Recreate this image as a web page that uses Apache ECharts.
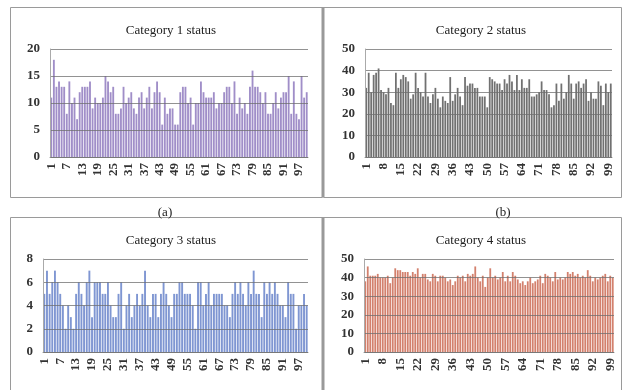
<!DOCTYPE html>
<html>
<head>
<meta charset="utf-8">
<script src="https://cdn.jsdelivr.net/npm/echarts@6/dist/echarts.min.js"></script>
<style>
  html, body { margin: 0; padding: 0; background: #fff; }
  #main { width: 625px; height: 390px; }
</style>
</head>
<body>
<div id="main"></div>
<script>
// bar index 1..100, same for all four panels
var cats = [];
for (var i = 1; i <= 100; i++) cats.push(String(i));

var cat1 = [11,18,13,14,13,13,8,14,10,11, 7,12,13,13,13,14,9,11,10,10,
            11,15,14,12,13,8,8,9,13,10, 11,12,9,8,11,12,9,11,13,9,
            12,14,12,6,11,8,9,9,6,6, 12,13,13,10,11,6,10,10,14,12,
            11,11,11,12,9,10,10,12,13,13, 10,14,8,11,9,10,8,13,16,13,
            13,12,10,12,8,8,10,12,9,11, 12,12,15,8,14,8,7,15,11,12];

var cat2 = [32,39,30,38,39,41,31,30,29,32, 25,24,39,32,36,38,37,35,27,29,
            39,32,30,28,39,28,25,29,32,27, 23,28,26,25,37,26,29,32,28,24,
            37,33,34,34,32,32,28,28,28,23, 37,36,35,34,34,31,36,34,38,35,
            31,38,31,36,32,32,36,28,28,29, 30,35,31,31,29,23,24,34,26,34,
            27,30,38,34,27,34,35,32,34,36, 26,30,27,27,35,33,24,34,30,34];

var cat3 = [5,7,5,6,7,6,5,4,2,4, 3,2,5,6,5,4,6,7,3,6,
            6,6,5,5,6,4,3,3,5,6, 2,4,5,3,4,5,4,5,7,4,
            3,5,5,3,5,6,5,4,3,5, 5,6,6,5,5,5,4,2,6,6,
            4,5,6,4,5,5,5,5,4,4, 3,5,6,5,6,5,4,6,5,7,
            5,5,3,6,5,6,5,6,5,4, 4,3,6,5,5,2,4,4,5,4];

var cat4 = [38,46,41,41,41,42,40,40,40,41, 37,40,45,44,44,43,43,43,41,43,
            42,45,40,42,42,39,38,42,41,38, 41,41,40,38,39,36,38,41,40,41,
            38,42,41,42,46,40,38,41,35,40, 45,40,41,39,40,43,38,41,38,43,
            41,39,37,38,36,38,40,37,38,39, 41,37,42,41,40,38,43,39,40,39,
            40,43,42,43,41,42,40,41,40,44, 41,38,40,39,40,41,42,38,41,40];

var titles = ['Category 1 status', 'Category 2 status', 'Category 3 status', 'Category 4 status'];
var yMax = [20, 50, 8, 50];
var yStep = [5, 10, 2, 10];
var labelEvery = [5, 6, 5, 6];
var colors = ['#a08ec8', '#717171', '#7f96d2', '#d3806d'];

var fontFam = '"Liberation Serif", "DejaVu Serif", serif';

var chart = echarts.init(document.getElementById('main'), null, {renderer: 'canvas'});

// plot areas of the four panels
var grids = [
    {left: 50, top: 49, width: 258, height: 108},
    {left: 365, top: 49, width: 247, height: 108},
    {left: 43, top: 259, width: 265, height: 93},
    {left: 364, top: 259, width: 250, height: 93}
];
var titlePos = [[166, 19], [476, 19], [166, 229], [476, 229]];

var xAxes = [], yAxes = [], series = [], titleArr = [];
var datas = [cat1, cat2, cat3, cat4];
for (let k = 0; k < 4; k++) {
    xAxes.push({
        type: 'category',
        gridIndex: k,
        data: cats,
        axisTick: {show: false},
        axisLine: {lineStyle: {color: '#999', width: 1}},
        axisLabel: {
            interval: labelEvery[k],
            rotate: 90,
            fontFamily: fontFam,
            fontSize: 13,
            fontWeight: 'bold',
            color: '#333',
            margin: 6
        }
    });
    yAxes.push({
        type: 'value',
        gridIndex: k,
        min: 0,
        max: yMax[k],
        interval: yStep[k],
        z: 3,
        axisLine: {show: true, lineStyle: {color: '#aaa'}},
        axisTick: {show: false},
        splitLine: {lineStyle: {color: 'rgba(110,110,110,0.75)', width: 1}},
        axisLabel: {fontFamily: fontFam, fontSize: 13, fontWeight: 'bold', color: '#333', margin: 10}
    });
    series.push({
        type: 'bar',
        xAxisIndex: k,
        yAxisIndex: k,
        data: datas[k],
        barCategoryGap: '28%',
        itemStyle: {color: colors[k]},
        silent: true
    });
    titleArr.push({
        text: titles[k],
        left: titlePos[k][0],
        top: titlePos[k][1],
        textAlign: 'center',
        textStyle: {fontFamily: fontFam, fontSize: 13, fontWeight: 'normal', color: '#222'}
    });
}
titleArr.push({text: '(a)', left: 160, top: 201, textAlign: 'center',
    textStyle: {fontFamily: fontFam, fontSize: 13, fontWeight: 'normal', color: '#222'}});
titleArr.push({text: '(b)', left: 498, top: 201, textAlign: 'center',
    textStyle: {fontFamily: fontFam, fontSize: 13, fontWeight: 'normal', color: '#222'}});

var option = {
    animation: false,
    backgroundColor: '#fff',
    title: titleArr,
    grid: grids,
    xAxis: xAxes,
    yAxis: yAxes,
    series: series,
    // panel frames
    graphic: [
        {type: 'rect', shape: {x: 10.5, y: 7.5, width: 312, height: 190}, style: {fill: null, stroke: '#9a9a9a', lineWidth: 1}},
        {type: 'rect', shape: {x: 323.5, y: 7.5, width: 298, height: 190}, style: {fill: null, stroke: '#9a9a9a', lineWidth: 1}},
        {type: 'rect', shape: {x: 10.5, y: 217.5, width: 312, height: 180}, style: {fill: null, stroke: '#9a9a9a', lineWidth: 1}},
        {type: 'rect', shape: {x: 323.5, y: 217.5, width: 298, height: 180}, style: {fill: null, stroke: '#9a9a9a', lineWidth: 1}},
        {type: 'line', shape: {x1: 323, y1: 7, x2: 323, y2: 197}, style: {stroke: '#999', lineWidth: 3}},
        {type: 'line', shape: {x1: 323, y1: 217, x2: 323, y2: 390}, style: {stroke: '#999', lineWidth: 3}}
    ]
};
chart.setOption(option);
</script>
</body>
</html>
